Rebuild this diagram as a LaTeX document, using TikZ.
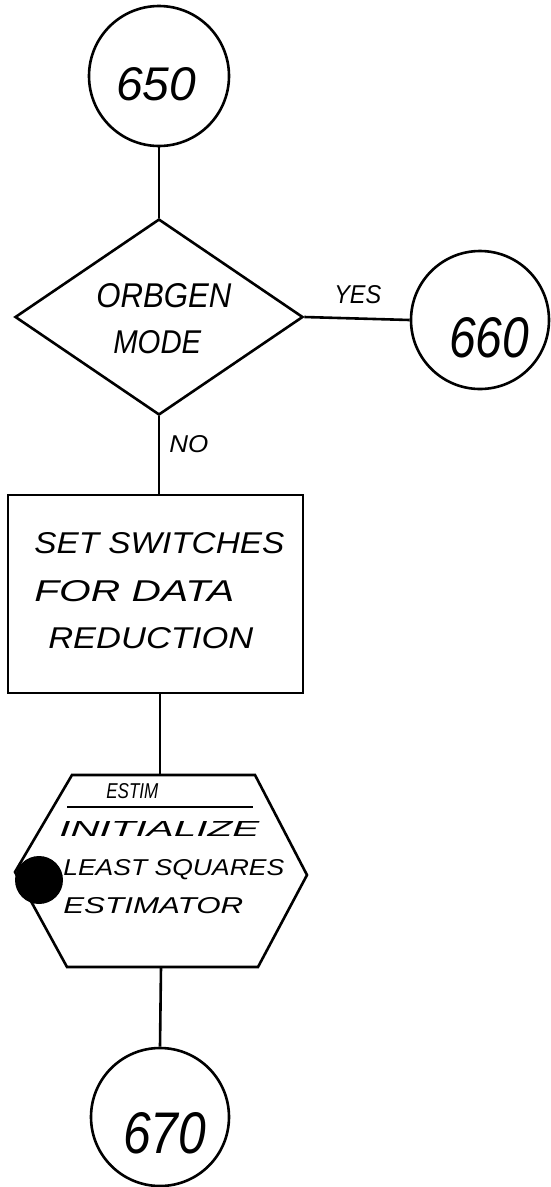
\documentclass[tikz,border=0pt]{standalone}
\usepackage{fontspec}
\usetikzlibrary{shapes.geometric}
\newfontfamily\hand{Liberation Sans}
% hand-lettered label: width, cap height, text
\newcommand\hw[3]{\resizebox{#1pt}{#2pt}{\hand\itshape #3}}

\begin{document}
\begin{tikzpicture}[x=1pt, y=-1pt, line width=2.6pt,
  conn/.style={circle, draw, minimum size=138pt, inner sep=0pt},
  lbl/.style={anchor=base west, inner sep=0pt},
  decision/.style={diamond, draw, minimum width=288pt, minimum height=196pt, inner sep=0pt},
  process/.style={rectangle, draw, minimum width=295pt, minimum height=198pt, inner sep=0pt}]
\useasboundingbox (0,0) rectangle (550,1187);

% connectors (on-page references)
\node[conn, minimum size=140pt] (c650) at (159,76) {};
\node[conn] (c660) at (480,320) {};
\node[conn] (c670) at (160,1117) {};

% decision
\node[decision] (dec) at (159,317) {};

% process box
\node[process] (box) at (155.5,594) {};

% predefined process (hexagon)
\coordinate (hexN) at (160,775);
\coordinate (hexS) at (161,967);
\draw (72,775) -- (255,775) -- (307,875) -- (258,967) -- (67,967) -- (15,872) -- cycle;
\draw[line width=1.4pt] (67,807) -- (253,807);
\fill (39,880) circle (24);

% flow lines
\draw (c650) -- (dec.north);
\draw (dec.east) -- (c660.west);
\draw (dec.south) -- (dec.south |- box.north);
\draw (hexN |- box.south) -- (hexN);
\draw (hexS) -- (c670.north);

% labels
\node[lbl] (t650) at (115,100) {\hw{80}{33}{650}};
\node[lbl] (t660) at (448,357) {\hw{80}{40}{660}};
\node[lbl] (t670) at (122,1153) {\hw{83}{41}{670}};
\node[lbl] (orb) at (95,307) {\hw{135}{24}{ORBGEN}};
\node[lbl] (mode) at (112,353) {\hw{88}{23}{MODE}};
\node[lbl] (yes) at (333,303) {\hw{47}{18}{YES}};
\node[lbl] (no) at (168,452) {\hw{39}{17}{NO}};
\node[lbl] (b1) at (33,553) {\hw{250}{21}{SET SWITCHES}};
\node[lbl] (b2) at (33,601) {\hw{200}{21}{FOR DATA}};
\node[lbl] (b3) at (47,648) {\hw{205}{21}{REDUCTION}};
\node[lbl] (h0) at (105,798) {\hw{52}{15}{ESTIM}};
\node[lbl] (h1) at (58,836) {\hw{200}{15}{INITIALIZE}};
\node[lbl] (h2) at (62,875) {\hw{221}{16}{LEAST SQUARES}};
\node[lbl] (h3) at (62,913) {\hw{180}{16}{ESTIMATOR}};
\end{tikzpicture}
\end{document}
